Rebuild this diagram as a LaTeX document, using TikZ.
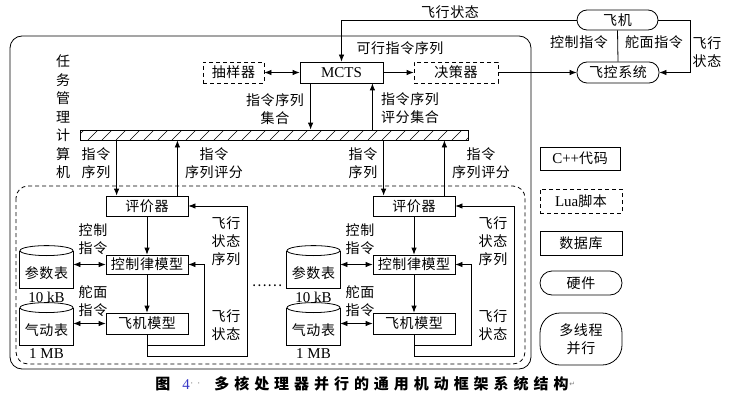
\documentclass[tikz,border=0pt]{standalone}
\usepackage{fontspec}
\setmainfont{Liberation Serif}
\newfontfamily\cjk[LetterSpace=4]{Noto Sans CJK SC}
\newfontfamily\cjkcap[LetterSpace=33]{Noto Sans CJK SC}
\newfontfamily\dejavu{DejaVu Sans}
\usetikzlibrary{arrows.meta}
\newcommand\latn[1]{{\rmfamily\fontsize{15}{18}\selectfont #1}}
\newcommand\fsz{\fontsize{14}{18}\selectfont}
\tikzset{
  box/.style={draw, minimum width=82pt, minimum height=20pt, inner sep=0pt},
  dbox/.style={box, dash pattern=on 4pt off 3pt},
  rbox/.style={box, rounded corners=10pt, minimum height=20pt},
  lbl/.style={align=center, inner sep=0pt},
  cyl/.style={minimum width=53pt, minimum height=30pt, inner sep=0pt},
  arr/.style={-{Latex[length=7pt,width=5.5pt]}},
  darr/.style={{Latex[length=7pt,width=5.5pt]}-{Latex[length=7pt,width=5.5pt]}},
  hatchbar/.style={draw, minimum width=388pt, minimum height=10pt, inner sep=0pt,
    path picture={\foreach \i in {0,...,28}{\draw[line width=0.6pt] ([xshift=\i*14pt-6pt]path picture bounding box.south west) -- ++(10pt,10pt);}}}
}
\begin{document}
\begin{tikzpicture}[x=1pt,y=-1pt,line width=0.8pt,font=\fsz\cjk]
\useasboundingbox (0,0) rectangle (730,401);

% containers
\draw[rounded corners=12pt] (10,36) rectangle (531,369);
\draw[rounded corners=12pt, dash pattern=on 4pt off 3pt] (16,186) rectangle (525,364);

% top row
\node[dbox, minimum width=61pt, minimum height=21pt] (samp) at (233.5,72.5) {抽样器};
\node[box, minimum width=83pt, minimum height=21pt] (mcts) at (341.5,72.5) {\latn{MCTS}};
\node[dbox, minimum width=84pt, minimum height=21pt] (dec) at (456,72.5) {决策器};
\node[rbox, minimum width=81pt] (plane) at (617.5,20) {飞机};
\node[rbox, minimum width=82pt, minimum height=21pt] (fcs) at (618,72.5) {飞控系统};
\node[hatchbar] (bar) at (274,135) {};

\draw[darr] (samp) -- (mcts);
\draw[arr] (mcts) -- (dec);
\draw[arr] (dec) -- (fcs);
\draw[arr] (plane.west) -| (mcts.north);
\draw (plane.south) -- (fcs.north);
\draw[arr] (plane.east) -- ++(32,0) |- (fcs.east);
\coordinate (m1) at ([xshift=11pt]mcts.south west);
\coordinate (m2) at ([xshift=-11pt]mcts.south east);
\draw[arr] (m1) -- (m1 |- bar.north);
\draw[arr] (m2 |- bar.north) -- (m2);

% top labels
\node[lbl] (t1) at (450,12) {飞行状态};
\node[lbl] (t2) at (400,48) {可行指令序列};
\node[lbl] (t3) at (579,42) {控制指令};
\node[lbl] (t4) at (654,42) {舵面指令};
\node[lbl] (t5) at (707,52) {飞行\\状态};
\node[lbl] (t6) at (275,109) {指令序列\\集合};
\node[lbl] (t7) at (410,108) {指令序列\\评分集合};
\node[lbl, font=\fontsize{14}{18.5}\selectfont\cjk] (tmc) at (63,117) {任\\务\\管\\理\\计\\算\\机};

% two worker groups
\foreach \o/\s in {0/a,267/b}{
  \node[box, minimum height=20pt] (ev\s) at ({147+\o},206) {评价器};
  \node[box, minimum height=19pt] (cl\s) at ({147+\o},264.5) {控制律模型};
  \node[box, minimum height=21pt] (am\s) at ({147+\o},323.5) {飞机模型};
  \node[cyl] (pb\s) at ({46.5+\o},273) {参数表};
  \node[cyl] (ab\s) at ({46.5+\o},330) {气动表};
  \draw ([yshift=7pt]pb\s.north west) -- (pb\s.south west) -- (pb\s.south east) -- ([yshift=7pt]pb\s.north east);
  \draw ([yshift=7pt]pb\s.north) ellipse [x radius=26.5pt, y radius=5pt];
  \draw ([yshift=7pt]ab\s.north west) -- (ab\s.south west) -- (ab\s.south east) -- ([yshift=7pt]ab\s.north east);
  \draw ([yshift=7pt]ab\s.north) ellipse [x radius=26.5pt, y radius=5pt];
  \node[lbl] (pbs\s) at ({46.5+\o},297) {\latn{10 kB}};
  \node[lbl] (abs\s) at ({46.5+\o},354) {\latn{1 MB}};
  \node[lbl] (lc\s) at ({93+\o},239) {控制\\指令};
  \node[lbl] (ls\s) at ({93+\o},301) {舵面\\指令};
  \node[lbl] (lq\s) at ({226+\o},241) {飞行\\状态\\序列};
  \node[lbl] (lf\s) at ({226+\o},325) {飞行\\状态};
  \node[lbl] (li\s) at ({96+\o},163) {指令\\序列};
  \node[lbl] (lp\s) at ({214+\o},163) {指令\\序列评分};
  \coordinate (d\s) at ([xshift=11pt]ev\s.north west);
  \coordinate (u\s) at ([xshift=-11pt]ev\s.north east);
  \draw[arr] (d\s |- bar.south) -- (d\s);
  \draw[arr] (u\s) -- (u\s |- bar.south);
  \draw[arr] (ev\s) -- (cl\s);
  \draw[arr] (cl\s) -- (am\s);
  \draw[darr] (pb\s.east |- cl\s.west) -- (cl\s.west);
  \draw[darr] (ab\s.east |- am\s.west) -- (am\s.west);
  \draw[arr] (am\s.south) |- ({204+\o},345) |- (cl\s.east);
  \draw[arr] (am\s.south) |- ({247+\o},356) |- (ev\s.east);
}
\node[lbl] (dots) at (267,286) {……};

% legend
\node[box, minimum width=80pt, minimum height=23pt] (lg1) at (580,158.5) {\latn{C++}代码};
\node[dbox, minimum height=24pt] (lg2) at (581,201) {\latn{Lua}脚本};
\node[box, minimum height=24pt] (lg3) at (581,243) {数据库};
\node[box, rounded corners=12pt, minimum height=24pt] (lg4) at (581,283) {硬件};
\node[box, rounded corners=20pt, minimum height=52pt, align=center] (lg5) at (581,339) {多线程\\并行};

% caption
\node[lbl, anchor=west, font=\fontsize{15}{18}\selectfont\cjkcap\bfseries] (cap0) at (155,384) {图};
\node[lbl, anchor=west, font=\color{blue!55!gray}\rmfamily\fontsize{15}{18}\selectfont] (cap1) at (182,385) {4};
\node[lbl, anchor=west, font=\color{gray}\dejavu\fontsize{9}{9}\selectfont] (cap1b) at (190,385) {·\hspace{4pt}·};
\node[lbl, anchor=west, font=\fontsize{15}{18}\selectfont\cjkcap\bfseries] (cap2) at (214,384)
  {多核处理器并行的通用机动框架系统结构};
\node[lbl, anchor=west, font=\color{gray}\dejavu\fontsize{7}{8}\selectfont] (ret) at (cap2.east) {↵};
\end{tikzpicture}
\end{document}
